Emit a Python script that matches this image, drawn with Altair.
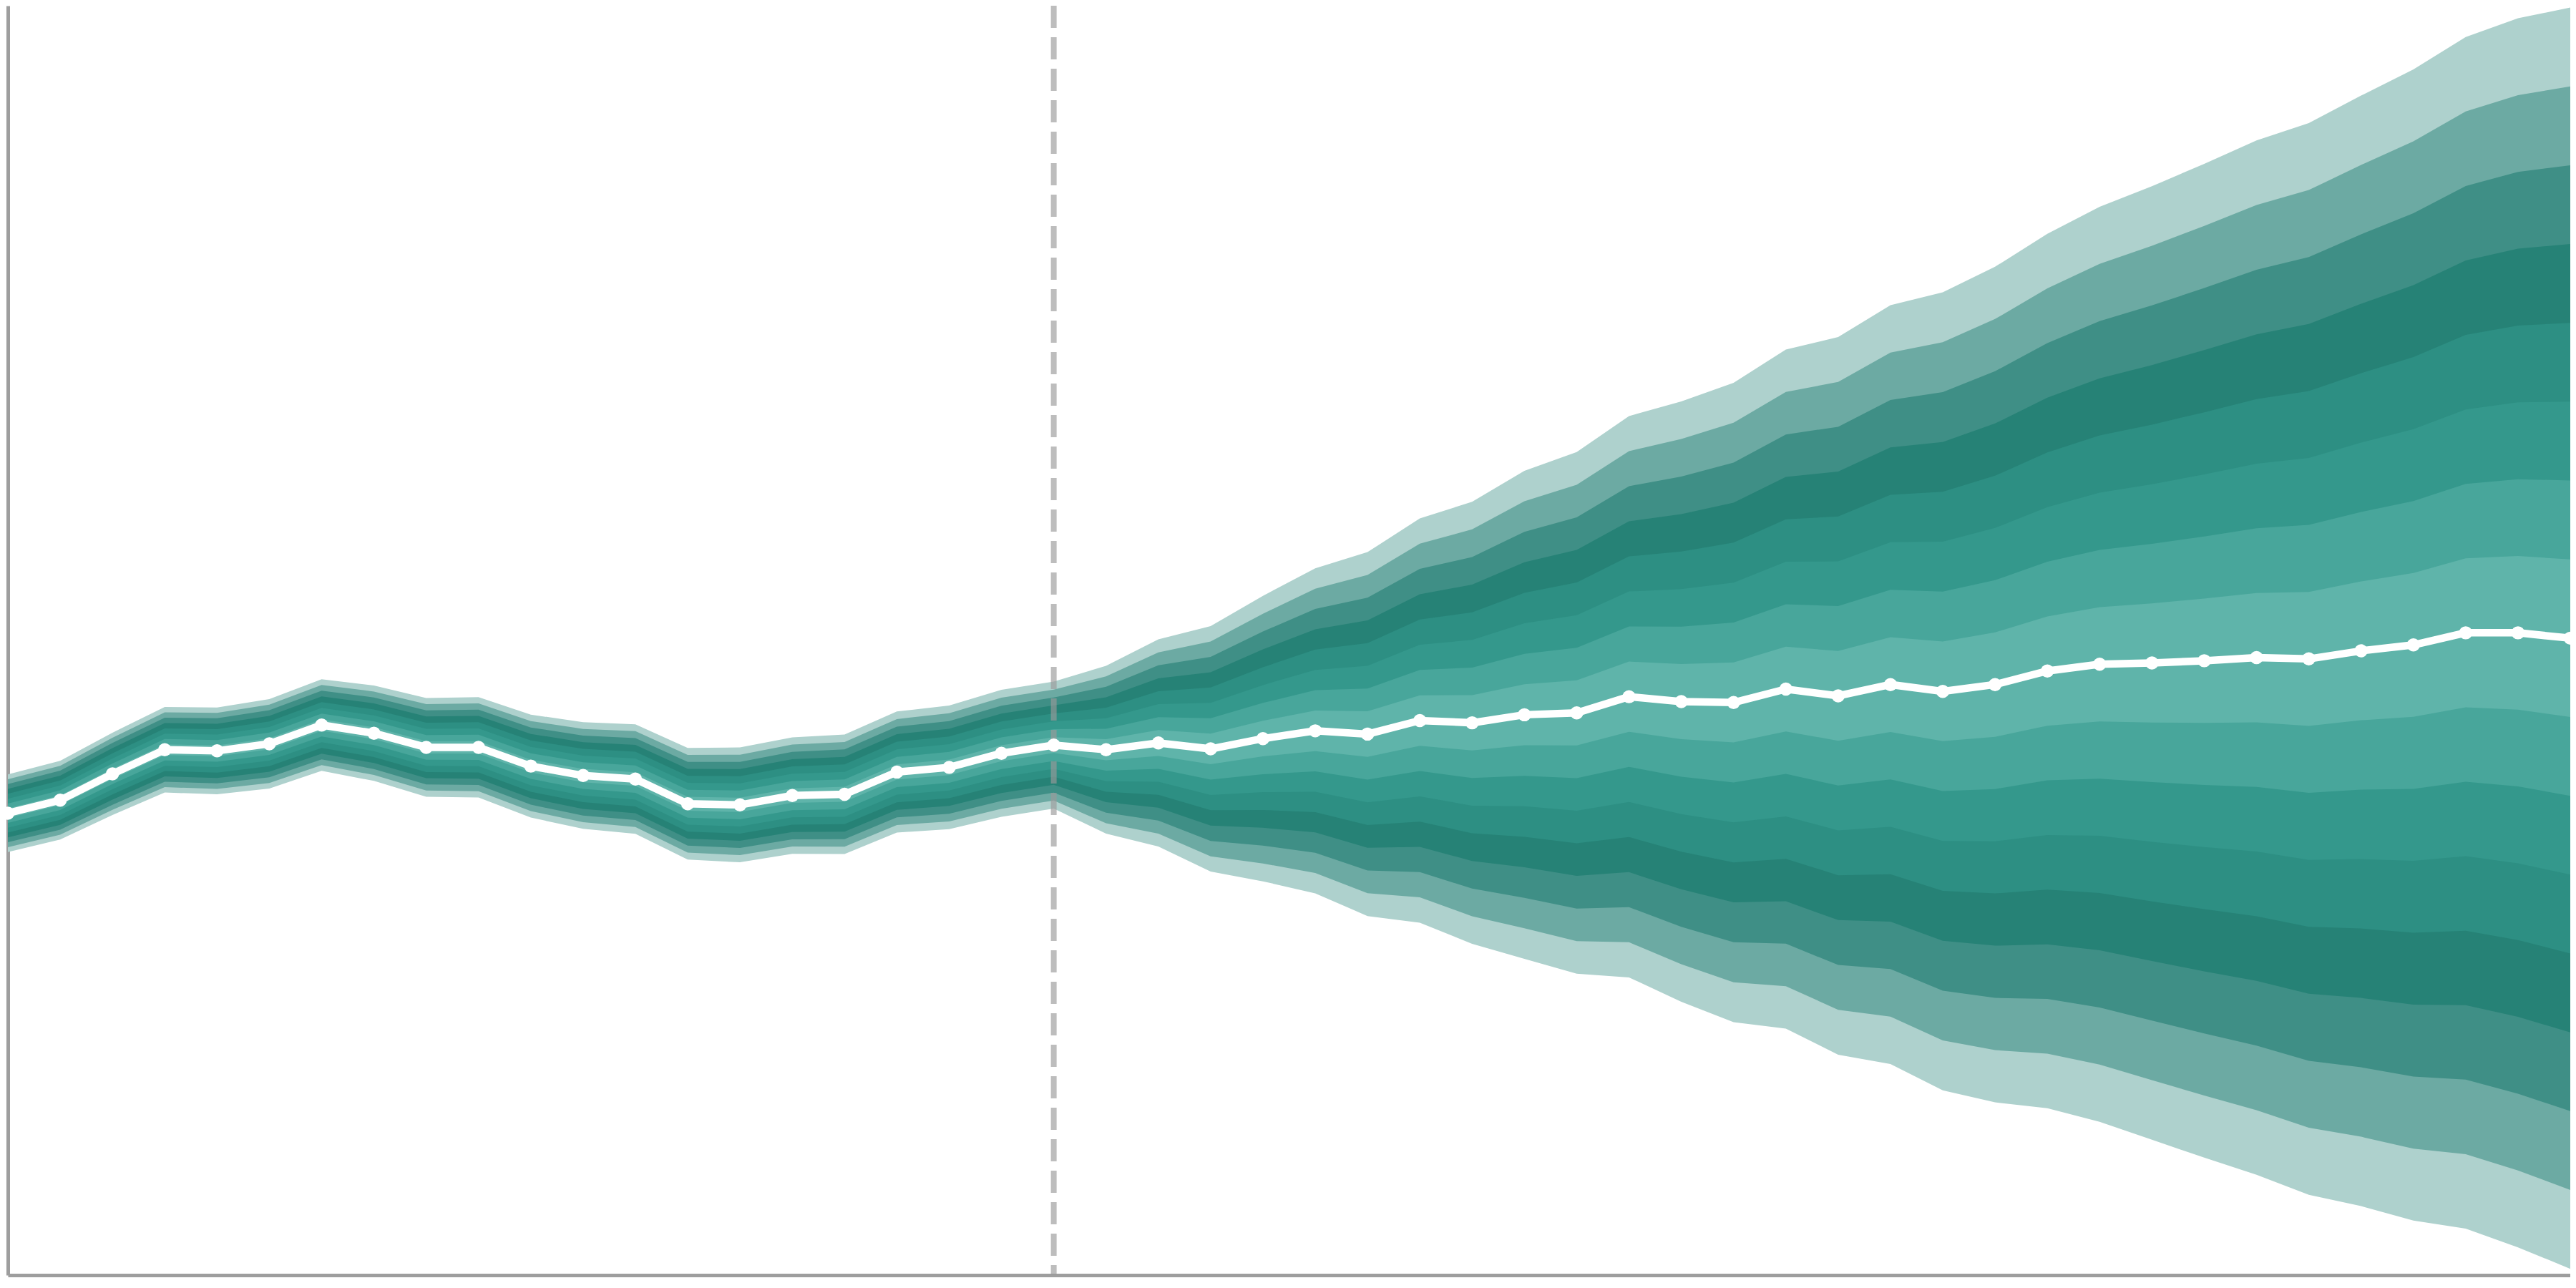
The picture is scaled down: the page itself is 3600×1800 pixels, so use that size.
import altair as alt
import pandas as pd

# period index (history 0..20, forecast 21..49)
period = list(range(50))
forecast_start = 20

# central path (white line)
center = [32.75, 33.67, 35.54, 37.25, 37.17, 37.67, 39.0, 38.42, 37.42, 37.42,
          36.09, 35.42, 35.17, 33.42, 33.34, 34.0, 34.09, 35.67, 36.0, 37.0,
          37.58, 37.25, 37.73, 37.31, 38.04, 38.59, 38.36, 39.32, 39.16, 39.73,
          39.86, 41.01, 40.66, 40.60, 41.55, 41.07, 41.87, 41.39, 41.87, 42.83,
          43.31, 43.40, 43.56, 43.78, 43.69, 44.26, 44.68, 45.54, 45.54, 45.16]

# half-width of the outermost band
spread = [2.75, 2.79, 2.92, 3.03, 3.08, 3.17, 3.25, 3.38, 3.5, 3.56,
          3.65, 3.78, 3.88, 3.96, 4.07, 4.13, 4.24, 4.29, 4.38, 4.5,
          4.5, 5.95, 7.34, 8.7, 10.12, 11.52, 12.9, 14.33, 15.67, 17.3,
          18.49, 19.9, 21.28, 22.67, 24.07, 25.44, 26.9, 28.29, 29.62, 31.0,
          32.44, 33.8, 35.23, 36.67, 37.99, 39.37, 40.81, 42.24, 43.57, 44.71]

# band levels (fraction of outer half-width), outermost first
band_levels = [1.0, 0.875, 0.75, 0.625, 0.5, 0.375, 0.25, 0.125]
band_colors = ["#aed1cd", "#6caaa3", "#3f8f86", "#268276",
               "#2d8f83", "#34988c", "#48a69b", "#5fb4aa"]

rows = []
for lvl in band_levels:
    for i, c, s in zip(period, center, spread):
        rows.append({"i": i, "level": lvl, "lo": c - lvl * s, "hi": c + lvl * s})
bands = pd.DataFrame(rows)
line_df = pd.DataFrame({"i": period, "center": center})
rule_df = pd.DataFrame({"i": [forecast_start]})

xscale = alt.Scale(domain=[0, 49], nice=False, zero=False)
yscale = alt.Scale(domain=[0, 90], nice=False, zero=False)
xaxis = alt.Axis(labels=False, ticks=False, grid=False, title=None,
                 domainColor="#9e9e9e", domainWidth=5)
yaxis = alt.Axis(labels=False, ticks=False, grid=False, title=None,
                 domainColor="#9e9e9e", domainWidth=5)

layers = []
for lvl, col in zip(band_levels, band_colors):
    layers.append(
        alt.Chart(bands[bands["level"] == lvl])
        .mark_area(color=col, opacity=1, interpolate="linear")
        .encode(
            x=alt.X("i:Q", scale=xscale, axis=xaxis),
            y=alt.Y("lo:Q", scale=yscale, axis=yaxis),
            y2="hi:Q",
        )
    )

rule = alt.Chart(rule_df).mark_rule(
    color="#999999", opacity=0.65, strokeWidth=8, strokeDash=[31, 13]
).encode(x=alt.X("i:Q", scale=xscale, axis=xaxis))

line = alt.Chart(line_df).mark_line(color="white", strokeWidth=10.5).encode(
    x=alt.X("i:Q", scale=xscale, axis=xaxis),
    y=alt.Y("center:Q", scale=yscale, axis=yaxis),
)
pts = alt.Chart(line_df).mark_circle(color="white", size=340, opacity=1).encode(
    x=alt.X("i:Q", scale=xscale, axis=xaxis),
    y=alt.Y("center:Q", scale=yscale, axis=yaxis),
)

chart = (
    alt.layer(*layers, rule, line, pts)
    .properties(width=3581, height=1774,
                padding={"left": 3, "top": 0, "right": 0, "bottom": 3},
                autosize=alt.AutoSizeParams(type="none"))
    .configure_view(strokeWidth=0)
)

chart.save("out.html", embed_options={"renderer": "svg", "actions": False})
